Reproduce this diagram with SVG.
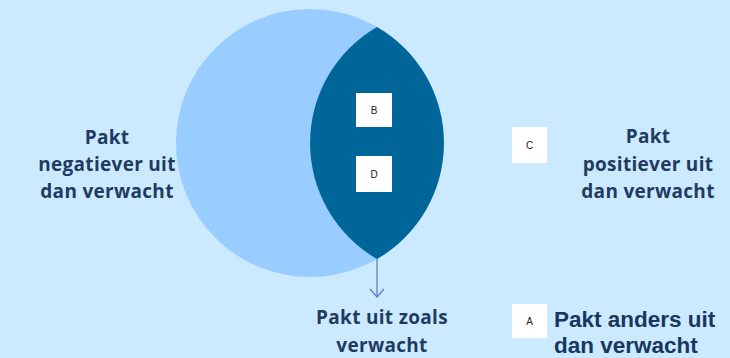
<svg xmlns="http://www.w3.org/2000/svg" width="730" height="358" viewBox="0 0 730 358">
<style>
.lbl{font-family:"Open Sans","Liberation Sans",sans-serif;font-weight:bold;font-size:19px;letter-spacing:0.3px;fill:#1f3b5f;text-anchor:middle}
.big{font-family:"Liberation Sans",Arial,sans-serif;font-weight:bold;font-size:22.5px;fill:#17375e}
.box{fill:#ffffff}
.let{font-family:"Liberation Sans",Arial,sans-serif;font-size:10px;fill:#222222;text-anchor:middle}
.conn{fill:none;stroke:#5b82c4;stroke-width:1.3}
</style>
<rect x="0" y="0" width="730" height="358" fill="#cceaff"/>
<g id="circle-left">
<circle cx="310" cy="143" r="134" fill="#99ccff"/>
</g>
<g id="lens">
<path d="M377,27 A134,134 0 0,1 377,259 A134,134 0 0,1 377,27 Z" fill="#006699"/>
</g>
<g id="connectors">
<line class="conn" x1="377" y1="259" x2="377" y2="297"/>
<polyline class="conn" points="370,289 377,297 384,289"/>
</g>
<g id="box-B">
<rect class="box" x="356" y="93" width="36" height="34"/>
<text class="let" x="374" y="114">B</text>
</g>
<g id="box-D">
<rect class="box" x="356" y="156" width="36" height="36"/>
<text class="let" x="374" y="178">D</text>
</g>
<g id="box-C">
<rect class="box" x="512" y="127" width="35" height="36"/>
<text class="let" x="529.5" y="149">C</text>
</g>
<g id="box-A">
<rect class="box" x="512" y="304" width="35" height="34"/>
<text class="let" x="529.5" y="325">A</text>
</g>
<g id="label-negatief">
<text class="lbl" x="107" y="144">Pakt</text>
<text class="lbl" x="107" y="171">negatiever uit</text>
<text class="lbl" x="107" y="198">dan verwacht</text>
</g>
<g id="label-positief">
<text class="lbl" x="648" y="143">Pakt</text>
<text class="lbl" x="648" y="171">positiever uit</text>
<text class="lbl" x="648" y="198">dan verwacht</text>
</g>
<g id="label-zoals">
<text class="lbl" x="382" y="324">Pakt uit zoals</text>
<text class="lbl" x="382" y="352">verwacht</text>
</g>
<g id="label-anders">
<text class="big" x="554" y="327">Pakt anders uit</text>
<text class="big" x="554" y="353">dan verwacht</text>
</g>
</svg>
